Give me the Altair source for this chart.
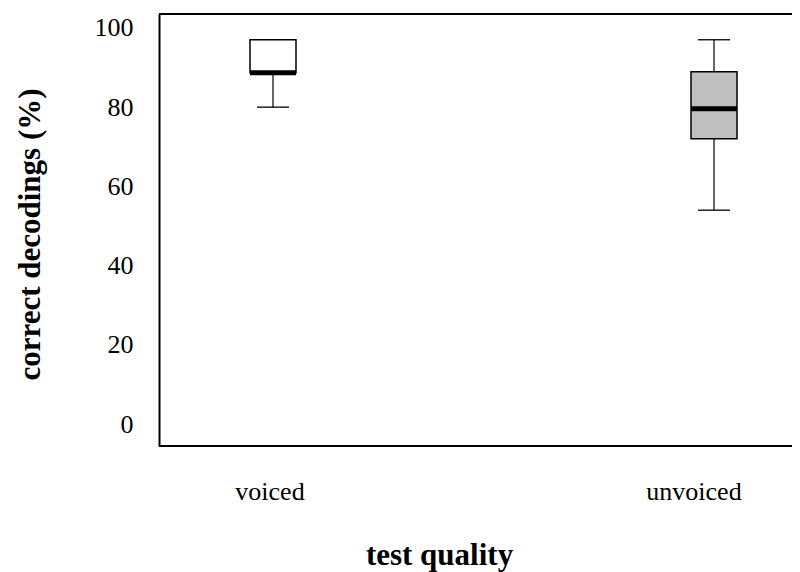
import altair as alt
import pandas as pd

groups = ["voiced", "unvoiced"]
mins = [80.0, 54.0]
q1s = [88.7, 72.0]
medians = [88.7, 79.6]
q3s = [97.0, 88.9]
maxs = [97.0, 97.0]
fills = ["#ffffff", "#c0c0c0"]
y_ticks = [0, 20, 40, 60, 80, 100]

df = pd.DataFrame({"group": groups, "min": mins, "q1": q1s, "median": medians,
                   "q3": q3s, "max": maxs})

W, H = 633, 432
FONT = "Liberation Serif"

x_enc = alt.X("group:N", sort=groups,
              scale=alt.Scale(type="point", domain=groups, range=[114, 555], padding=0),
              axis=alt.Axis(title="test quality", labels=False, ticks=False,
                            domain=False,
                            titleFont=FONT, titleFontSize=31,
                            titleFontWeight="bold", titleColor="black",
                            titleX=280, titleY=118, titleAlign="center",
                            titleBaseline="alphabetic"))
y_scale = alt.Scale(domain=[-5.5, 103.5], nice=False, zero=False)
y_axis = alt.Axis(title="correct decodings (%)", values=y_ticks, ticks=False, grid=False,
                  domainWidth=2, domainColor="black", labelFont=FONT, labelFontSize=26,
                  labelColor="black", labelPadding=26, titleFont=FONT, titleFontSize=31,
                  titleFontWeight="bold", titleColor="black", titlePadding=48,
                  titleY=220, titleAlign="center")

base = alt.Chart(df)

lower = base.mark_rule(color="black", strokeWidth=1.2).encode(
    x=x_enc, y=alt.Y("min:Q", scale=y_scale, axis=y_axis), y2="q1:Q")
upper = base.mark_rule(color="black", strokeWidth=1.2).encode(
    x=x_enc, y=alt.Y("q3:Q", scale=y_scale, axis=y_axis), y2="max:Q")
caps_lo = base.mark_tick(color="black", size=32, thickness=1.3, opacity=1).encode(
    x=x_enc, y=alt.Y("min:Q", scale=y_scale, axis=y_axis))
caps_hi = base.mark_tick(color="black", size=32, thickness=1.3, opacity=1).encode(
    x=x_enc, y=alt.Y("max:Q", scale=y_scale, axis=y_axis))
box = base.mark_bar(size=46, stroke="black", strokeWidth=1.5, opacity=1).encode(
    x=x_enc, y=alt.Y("q1:Q", scale=y_scale, axis=y_axis), y2="q3:Q",
    color=alt.Color("group:N", scale=alt.Scale(domain=groups, range=fills), legend=None))
med = base.mark_tick(color="black", size=46, thickness=5, opacity=1).encode(
    x=x_enc, y=alt.Y("median:Q", scale=y_scale, axis=y_axis))

lab_voiced = base.transform_filter(alt.datum.group == "voiced").mark_text(
    font=FONT, fontSize=26, color="black", baseline="alphabetic", dx=-3).encode(
    x=x_enc, y=alt.value(H + 54), text="group:N")
lab_unvoiced = base.transform_filter(alt.datum.group == "unvoiced").mark_text(
    font=FONT, fontSize=26, color="black", baseline="alphabetic", dx=-20).encode(
    x=x_enc, y=alt.value(H + 54), text="group:N")

frame = pd.DataFrame({"a": [0]})
top = alt.Chart(frame).mark_rule(color="black", strokeWidth=2).encode(
    y=alt.value(0), x=alt.value(0), x2=alt.value(W))
bottom = alt.Chart(frame).mark_rule(color="black", strokeWidth=2).encode(
    y=alt.value(H), x=alt.value(0), x2=alt.value(W))

chart = alt.layer(lower, upper, caps_lo, caps_hi, box, med, lab_voiced, lab_unvoiced,
                  top, bottom).properties(
    width=W, height=H,
    autosize=alt.AutoSizeParams(type="none"),
    padding={"left": 151, "top": 6, "right": 0, "bottom": 126},
).configure_view(stroke=None).configure(background="white")

chart.save("out.html", embed_options={"renderer": "svg", "actions": False})
